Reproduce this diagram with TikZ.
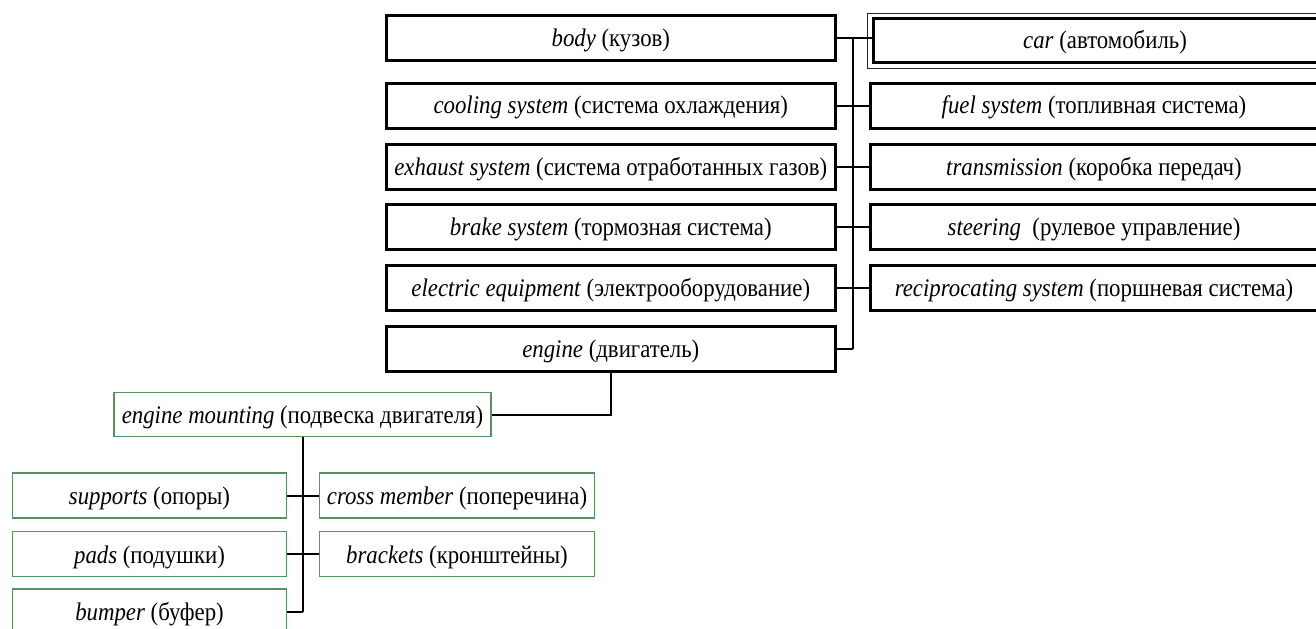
\documentclass[tikz,border=0pt]{standalone}
\usepackage{fontspec}
\setmainfont{Liberation Serif}[FakeStretch=0.9]
\usepackage{tikz}
\definecolor{partgreen}{RGB}{88,146,96}
\tikzset{unit/.style={draw=black,line width=2.25pt,minimum height=33.75pt,inner sep=0pt,
    text height=12.5pt,text depth=0pt,font=\fontsize{19}{22}\selectfont},
  leftunit/.style={unit,minimum width=336.75pt},
  rightunit/.style={unit,minimum width=335.25pt},
  part/.style={draw=partgreen,line width=1.1pt,minimum height=33.75pt,inner sep=0pt,
    text height=14pt,text depth=0pt,font=\fontsize{19}{22}\selectfont},
  link/.style={draw=black,line width=1.5pt}}

\begin{document}
\begin{tikzpicture}[x=0.75pt,y=-0.75pt]
  \useasboundingbox (0,0) rectangle (1316,628);
  % left column
  \node[leftunit] (body) at (610.8,38) {\textit{body} (кузов)};
  \node[leftunit] (cooling) at (610.8,105.6) {\textit{cooling system} (система охлаждения)};
  \node[leftunit] (exhaust) at (610.8,166.7) {\textit{exhaust system} (система отработанных газов)};
  \node[leftunit] (brake) at (610.8,226.7) {\textit{brake system} (тормозная система)};
  \node[leftunit] (electric) at (610.8,288) {\textit{electric equipment} (электрооборудование)};
  \node[leftunit] (engine) at (610.8,349) {\textit{engine} (двигатель)};
  % right column
  \node[unit,minimum width=347.5pt,minimum height=32.85pt] (car) at (1105,40.6) {\textit{car} (автомобиль)};
  \draw[line width=0.9pt,black!85] ([shift={(-4,-4)}]car.north west) rectangle ([shift={(4,4.5)}]car.south east);
  \node[rightunit] (fuel) at (1094,105.6) {\textit{fuel system} (топливная система)};
  \node[rightunit] (transmission) at (1094,166.7) {\textit{transmission} (коробка передач)};
  \node[rightunit] (steering) at (1094,226.7) {\textit{steering}\ \ (рулевое управление)};
  \node[rightunit] (reciprocating) at (1094,288) {\textit{reciprocating system} (поршневая система)};
  \coordinate (trunk) at (853,38);
  \draw[link] (body.east) -- (body.east -| car.west);
  \draw[link] (trunk) -- (trunk |- engine.east);
  \foreach \unitname in {cooling,exhaust,brake,electric,engine}
    \draw[link] (\unitname.east) -- (\unitname.east -| trunk);
  \foreach \unitname in {fuel,transmission,steering,reciprocating}
    \draw[link] (\unitname.west) -- (\unitname.west -| trunk);
  % engine mounting
  \node[part,minimum width=282.75pt,minimum height=33pt] (mounting) at (302.5,414.5) {\textit{engine mounting} (подвеска двигателя)};
  \draw[link] (engine.south) |- (mounting.east);
  \node[part,minimum width=205.5pt] (supports) at (149.5,495.5) {\textit{supports} (опоры)};
  \node[part,minimum width=205.5pt] (pads) at (149.5,554) {\textit{pads} (подушки)};
  \node[part,minimum width=205.5pt] (bumper) at (149.5,611.5) {\textit{bumper} (буфер)};
  \node[part,minimum width=206.25pt] (crossmember) at (457,495.5) {\textit{cross member} (поперечина)};
  \node[part,minimum width=206.25pt] (brackets) at (457,554) {\textit{brackets} (кронштейны)};
  \draw[link] (mounting.south) -- (mounting.south |- bumper.east);
  \foreach \partname in {supports,pads,bumper}
    \draw[link] (\partname.east) -- (\partname.east -| mounting.south);
  \foreach \partname in {crossmember,brackets}
    \draw[link] (\partname.west) -- (\partname.west -| mounting.south);
\end{tikzpicture}
\end{document}
